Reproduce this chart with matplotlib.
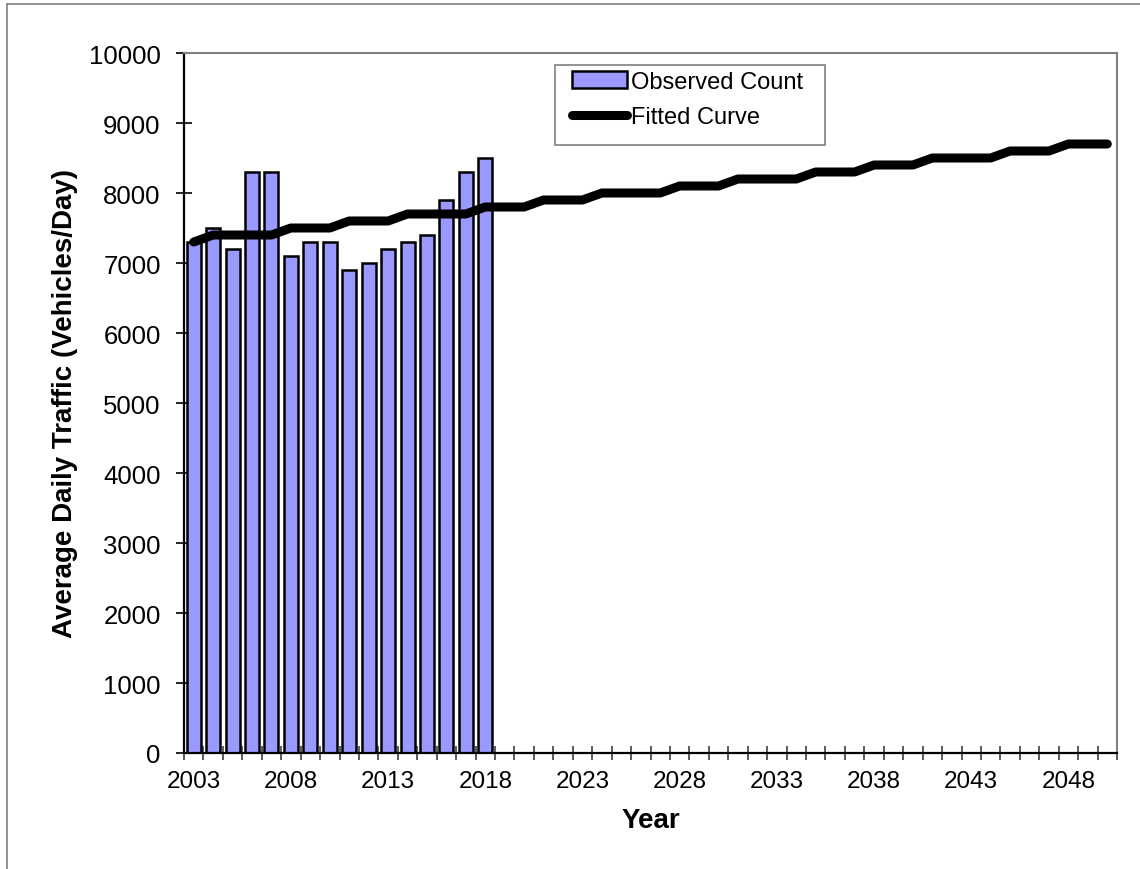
import matplotlib
matplotlib.use("Agg")
import matplotlib.pyplot as plt
from matplotlib.lines import Line2D
from matplotlib.patches import Rectangle

plt.rcParams['font.family'] = ['Liberation Sans', 'DejaVu Sans']

# data
years = list(range(2003, 2051))
observed_years = list(range(2003, 2019))
observed_count = [7300, 7500, 7200, 8300, 8300, 7100, 7300, 7300,
                  6900, 7000, 7200, 7300, 7400, 7900, 8300, 8500]
fitted_curve = [7300, 7400, 7400, 7400, 7400, 7500, 7500, 7500,
                7600, 7600, 7600, 7700, 7700, 7700, 7700, 7800,
                7800, 7800, 7900, 7900, 7900, 8000, 8000, 8000,
                8000, 8100, 8100, 8100, 8200, 8200, 8200, 8200,
                8300, 8300, 8300, 8400, 8400, 8400, 8500, 8500,
                8500, 8500, 8600, 8600, 8600, 8700, 8700, 8700]
label_years = [2003, 2008, 2013, 2018, 2023, 2028, 2033, 2038, 2043, 2048]

W, H = 1140, 870
fig = plt.figure(figsize=(W / 100, H / 100), dpi=100)
ax = fig.add_axes([184 / W, 1 - 754 / H, (1117 - 184) / W, (754 - 54) / H])

# outer chart border (only top and left visible in the crop)
fig.add_artist(Line2D([7 / W, 1.0], [1 - 5 / H, 1 - 5 / H], transform=fig.transFigure,
                      color='#808080', lw=1.2))
fig.add_artist(Line2D([7 / W, 7 / W], [0.0, 1 - 5 / H], transform=fig.transFigure,
                      color='#808080', lw=1.2))

x_all = [years.index(y) for y in years]
x_obs = [years.index(y) for y in observed_years]

bars = ax.bar(x_obs, observed_count, width=0.72, color='#9999FF', edgecolor='black',
              linewidth=1.8, label='Observed Count', zorder=2)
line, = ax.plot(x_all, fitted_curve, color='black', lw=6.5, solid_capstyle='round',
                solid_joinstyle='round', label='Fitted Curve', zorder=3)

ax.set_xlim(-0.5, len(years) - 0.5)
ax.set_ylim(0, 10000)
ax.set_yticks(range(0, 10001, 1000))

ax.set_xticks([years.index(y) for y in label_years])
ax.set_xticklabels([str(y) for y in label_years])
ax.set_xticks([i - 0.5 for i in range(len(years) + 1)], minor=True)
ax.tick_params(axis='x', which='major', length=0, pad=12, labelsize=17.5)
ax.tick_params(axis='x', which='minor', direction='inout', length=10, width=1.2,
               color='#404040')
ax.tick_params(axis='y', direction='inout', length=11.5, width=1.2, pad=11,
               labelsize=18.5)

for side in ['left', 'bottom']:
    ax.spines[side].set_color('black')
    ax.spines[side].set_linewidth(1.6)
for side in ['top', 'right']:
    ax.spines[side].set_color('#808080')
    ax.spines[side].set_linewidth(1.5)

ax.set_xlabel('Year', fontsize=20, fontweight='bold', labelpad=11)
ax.set_ylabel('Average Daily Traffic (Vehicles/Day)', fontsize=20,
              fontweight='bold', labelpad=8)

# legend box drawn by hand, entries placed inside it
fig.add_artist(Rectangle((555 / W, 1 - 146 / H), 270 / W, 80 / H,
                         transform=fig.transFigure, fill=False,
                         edgecolor='#808080', lw=1.2, zorder=5))
leg = ax.legend([bars, line], ['Observed Count', 'Fitted Curve'],
                loc='upper left', bbox_to_anchor=(572 / W, 1 - 72 / H),
                bbox_transform=fig.transFigure, borderaxespad=0,
                fontsize=17, frameon=False,
                handlelength=2.35, handleheight=0.7, handletextpad=0.15,
                labelspacing=0.55, borderpad=0)

fig.savefig('out.png', dpi=100)
